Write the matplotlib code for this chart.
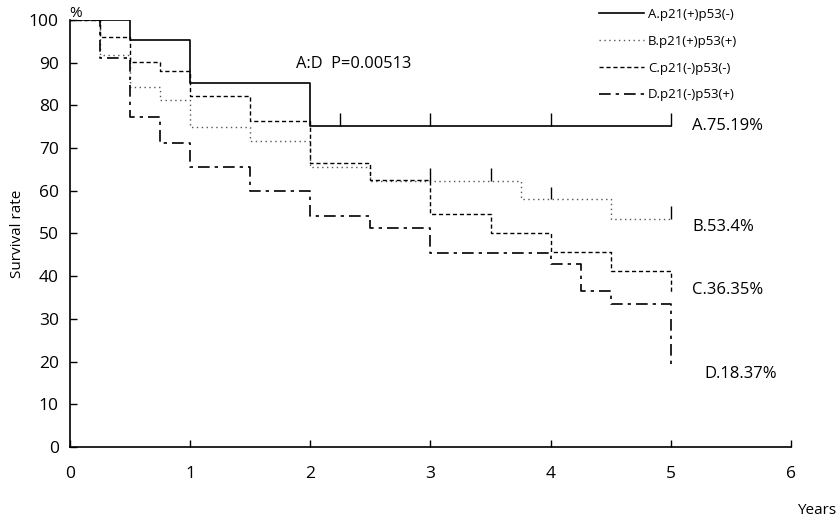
import matplotlib.pyplot as plt

plt.rcParams['font.family'] = ['Open Sans', 'DejaVu Sans']

# Kaplan-Meier steps (years, survival %)
a_t = [0, 0.5, 1, 2, 5]
a_s = [100, 95.2, 85.2, 75.19, 75.19]
b_t = [0, 0.25, 0.5, 0.75, 1, 1.5, 2, 2.5, 3.75, 4.5, 5]
b_s = [100, 91.8, 84.2, 81.3, 75.0, 71.7, 65.5, 62.3, 58.0, 53.4, 53.4]
c_t = [0, 0.25, 0.5, 0.75, 1, 1.5, 2, 2.5, 3, 3.5, 4, 4.5, 5]
c_s = [100, 96.0, 90.2, 88.1, 82.2, 76.4, 66.6, 62.5, 54.6, 50.2, 45.7, 41.1, 36.35]
d_t = [0, 0.25, 0.5, 0.75, 1, 1.5, 2, 2.5, 3, 4, 4.25, 4.5, 5]
d_s = [100, 91.2, 77.2, 71.3, 65.6, 60.0, 54.2, 51.4, 45.5, 42.9, 36.6, 33.5, 18.37]

# censored observations
a_cens = [2.25, 3, 4, 5]
b_cens = [3, 3.5, 4, 5]

labels = ['A.p21(+)p53(-)', 'B.p21(+)p53(+)', 'C.p21(-)p53(-)', 'D.p21(-)p53(+)']
end_labels = ['A.75.19%', 'B.53.4%', 'C.36.35%', 'D.18.37%']


def surv_at(t, times, surv):
    val = surv[0]
    for ti, si in zip(times, surv):
        if ti <= t:
            val = si
    return val


fig = plt.figure(figsize=(8.39, 5.25), dpi=100)
ax = fig.add_axes([0.0834, 0.1486, 0.8594, 0.8133])

styles = [
    dict(color='black', lw=1.2, ls='-'),
    dict(color='#555555', lw=1.0, ls=(0, (1, 2.5))),
    dict(color='black', lw=1.0, ls=(0, (3, 2))),
    dict(color='black', lw=1.2, ls=(0, (7, 3, 2, 3))),
]
series = [(a_t, a_s), (b_t, b_s), (c_t, c_s), (d_t, d_s)]
for (t, s), st, lab in zip(series, styles, labels):
    ax.step(t, s, where='post', label=lab, **st)

for times, (t, s) in [(a_cens, series[0]), (b_cens, series[1])]:
    for c in times:
        y = surv_at(c, t, s)
        ax.vlines(c, y, y + 3, color='black', lw=1.0)

ax.set_xlim(0, 6)
ax.set_ylim(0, 100)
ax.set_xticks(range(0, 7))
ax.set_yticks(range(0, 101, 10))
ax.spines['top'].set_visible(False)
ax.spines['right'].set_visible(False)
for sp in ['left', 'bottom']:
    ax.spines[sp].set_linewidth(1.2)
ax.tick_params(direction='in', length=5, width=1, labelsize=12.5, pad=8)
ax.tick_params(axis='x', pad=14)
ax.set_ylabel('Survival rate', fontsize=11, labelpad=3)

fig.text(0.083, 0.975, '%', fontsize=11, ha='left', va='center')
fig.text(0.996, 0.028, 'Years', fontsize=11, ha='right', va='center')

ax.text(1.88, 89.6, 'A:D  P=0.00513', fontsize=11.8, ha='left', va='center')

end_y = [75.19, 51.5, 36.8, 17]
end_x = [5.18, 5.18, 5.18, 5.28]
for lab, x, y in zip(end_labels, end_x, end_y):
    ax.text(x, y, lab, fontsize=12, ha='left', va='center')

leg = ax.legend(loc='upper left', bbox_to_anchor=(0.708, 0.995), bbox_transform=fig.transFigure,
                frameon=False, fontsize=9.5, handlelength=3.4, handletextpad=0.3,
                labelspacing=1.05, borderaxespad=0)

fig.savefig('out.png', dpi=100)
